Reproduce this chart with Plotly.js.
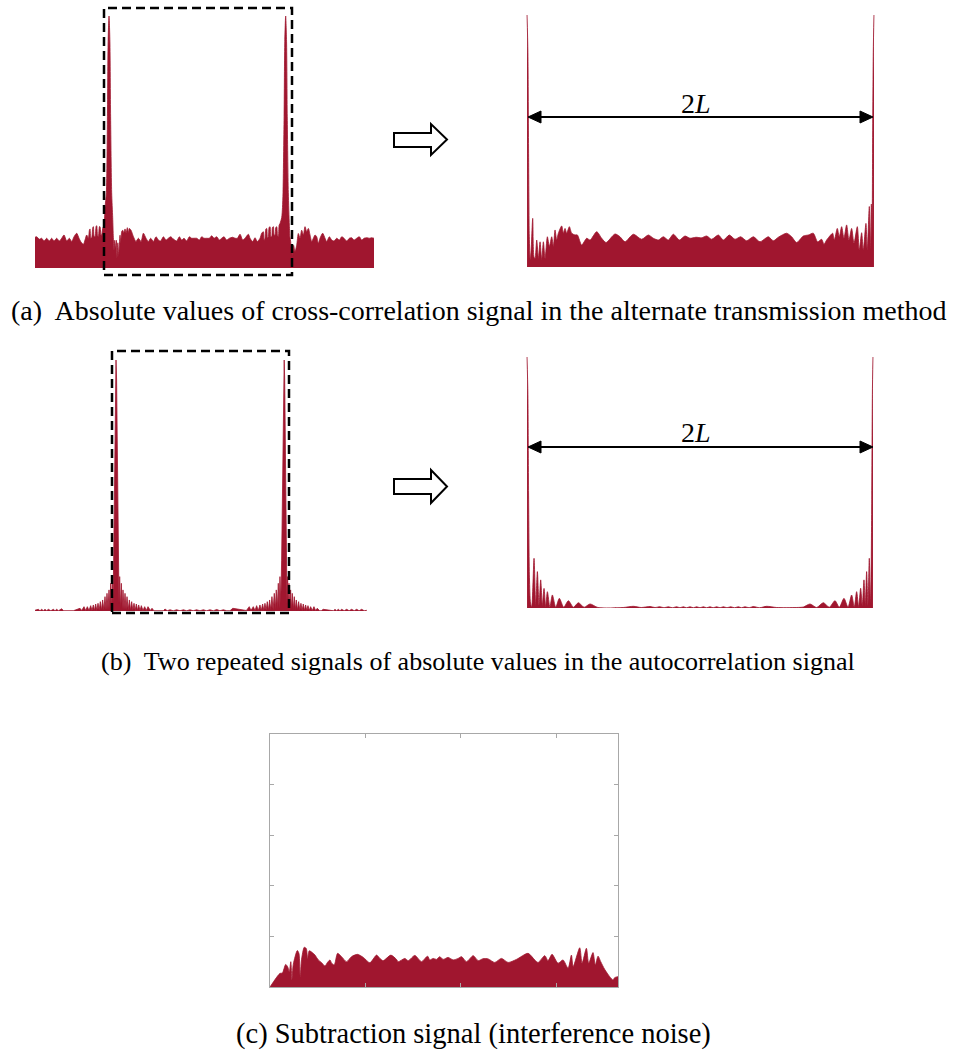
<!DOCTYPE html>
<html>
<head>
<meta charset="utf-8">
<script src="https://cdn.plot.ly/plotly-3.0.1.min.js"></script>
<style>
html,body{margin:0;padding:0;background:#fff;}
#chart{width:953px;height:1060px;}
</style>
</head>
<body>
<div id="chart"></div>
<script>
// ---------------- DATA ----------------
// (a) left: |cross-correlation|, lag in units where the two peaks are 1000 apart
const aLeftLag = [-419,-409.5,-394.4,-381.2,-368,-352.9,-337.8,-324.6,-311.4,-296.3,-281.2,-268,-254.7,-239.6,-224.6,-211.3,-198.1,-183,-169.8,-160.4,-145.3,-135.9,-126.4,-117,-111,-107.6,-103,-98.1,-92,-88.7,-84,-79.3,-73,-69.8,-65,-60.4,-54,-51,-45,-41.5,-35.9,-28.3,-22.6,-15,-9,-5,0,5,9,15,20.8,24.5,28.3,32,35.9,41.5,45,50,55,62.3,66,72,77.4,84,90.6,97,103.8,110,115.1,124.5,137.8,152.8,166.1,181.2,194.4,209.5,222.7,235.9,251,266.1,279.3,292.5,307.6,322.7,335.9,349.1,364.2,383.1,398.2,411.4,424.6,439.7,454.8,468,481.2,496.3,511.4,524.6,537.8,552.9,568,581.2,594.4,609.5,624.6,637.8,651,666.1,681.2,700.1,713.3,726.5,741.6,756.7,769.9,788.8,798.2,813.3,826.5,839.7,854.8,864.2,873.7,878,883.1,888,892.6,897,902,906,911.4,916,920.9,925,930.3,935,939.7,944,949.2,954,958.6,963,968,977.5,982,985,991,995,1000,1005,1009,1015,1020.8,1024.5,1028.3,1032,1036,1040,1045,1052.9,1062.3,1071.7,1081.2,1090.6,1100,1109.6,1119,1128.5,1137.9,1147.3,1156.8,1166.2,1175.6,1185,1194.5,1209.6,1222.8,1232.2,1247.3,1260.5,1273.7,1288.8,1303.9,1317.1,1330.3,1345.4,1360.5,1373.7,1387,1402,1417.2,1430.3,1443.6,1458.7,1473.7,1487,1500];
const aLeftAmp = [0.122,0.124,0.114,0.118,0.107,0.118,0.107,0.118,0.107,0.118,0.107,0.118,0.131,0.107,0.118,0.105,0.124,0.138,0.118,0.105,0.094,0.111,0.131,0.118,0.15,0.155,0.118,0.12,0.16,0.164,0.125,0.124,0.165,0.168,0.13,0.124,0.164,0.164,0.13,0.131,0.157,0.17,0.24,0.3,0.6,0.9,1.0,0.9,0.6,0.3,0.2,0.12,0.07,0.11,0.08,0.11,0.04,0.1,0.05,0.13,0.1,0.145,0.15,0.14,0.155,0.14,0.16,0.14,0.157,0.15,0.125,0.105,0.118,0.105,0.138,0.118,0.105,0.118,0.105,0.124,0.111,0.107,0.124,0.111,0.118,0.124,0.115,0.107,0.124,0.111,0.118,0.107,0.124,0.118,0.118,0.118,0.111,0.124,0.118,0.118,0.118,0.128,0.118,0.124,0.111,0.118,0.124,0.111,0.118,0.122,0.118,0.118,0.134,0.111,0.118,0.134,0.118,0.105,0.12,0.105,0.118,0.138,0.144,0.11,0.118,0.155,0.157,0.12,0.124,0.16,0.164,0.125,0.124,0.16,0.164,0.13,0.131,0.16,0.164,0.13,0.124,0.17,0.177,0.2,0.24,0.3,0.6,0.9,1.0,0.9,0.6,0.3,0.17,0.12,0.105,0.07,0.08,0.05,0.09,0.065,0.09,0.137,0.118,0.15,0.131,0.164,0.144,0.157,0.131,0.105,0.118,0.131,0.124,0.098,0.118,0.138,0.118,0.105,0.124,0.111,0.107,0.118,0.111,0.124,0.118,0.107,0.118,0.12,0.111,0.118,0.124,0.111,0.118,0.12,0.118,0.12,0.118];

// (a) right: zoom between the two peaks (2L = 1000 units)
const aRightLag = [0,2.5,4.5,6.5,9,11.5,16.3,20,23.1,27.9,32.7,37.5,42.3,47.1,51.9,58.6,64.4,71.1,75.9,80.7,85.5,90.3,99.9,104.7,109.5,114.3,122,128.7,138.3,145.1,157.5,172,181.6,200.8,215.2,227.7,253.6,268,282.4,306.4,330.4,349.7,364.1,378.5,392.9,407.3,421.7,439,455.3,469.7,487,503.4,517.8,532.2,551.4,565.8,583.1,599.4,615.7,633,652.3,671.5,695.5,709.9,724.3,748.3,762.7,777.1,796.3,810.7,825.1,837.6,849.2,855.9,863.6,875.1,880.9,885.7,894.3,900.1,906.8,913.5,921.2,927.9,935.6,942.4,952,957.7,964.5,969.3,976.9,980.8,986.6,990,992.5,994.5,996,998,1000];
const aRightAmp = [1.0,0.85,0.45,0.12,0.03,0.06,0.193,0.04,0.034,0.107,0.034,0.1,0.028,0.1,0.034,0.12,0.081,0.12,0.081,0.147,0.107,0.134,0.163,0.134,0.153,0.134,0.16,0.134,0.127,0.127,0.087,0.114,0.107,0.14,0.114,0.097,0.131,0.12,0.1,0.13,0.11,0.127,0.114,0.107,0.12,0.107,0.13,0.107,0.123,0.114,0.118,0.116,0.123,0.11,0.127,0.107,0.127,0.11,0.12,0.104,0.12,0.1,0.12,0.104,0.118,0.134,0.12,0.097,0.123,0.127,0.134,0.1,0.11,0.09,0.107,0.127,0.134,0.107,0.153,0.12,0.16,0.114,0.167,0.107,0.153,0.094,0.16,0.067,0.136,0.067,0.173,0.067,0.24,0.07,0.25,0.1,0.45,0.85,1.0];

// (b) left: two repeated autocorrelation magnitudes
const bLeftLag = [-478.5,-458.8,-449,-439.1,-429,-419.4,-409.5,-399.7,-385,-370.2,-360,-350.5,-340,-320.9,-310,-252,-212.7,-202.8,-189,-179,-169.3,-159.5,-149.6,-141.8,-133.9,-127,-120.1,-113.2,-106.3,-99.4,-92.5,-85.7,-78.8,-71.9,-65,-59.1,-53.2,-47.3,-41.3,-36.4,-31.5,-26.6,-21.7,-17.7,-13.8,-10,-6.5,-3.5,0,3.5,6.5,10,13.8,17.7,21.7,26.6,31.5,36.4,41.3,47.3,53.2,59.1,65,71.9,78.8,85.7,92.5,99.4,106.3,113.2,120.1,127,133.9,141.8,149.6,159.5,169.3,179,189,202.8,212.7,224,280,289.4,303,319,338,358.4,378,398,417,437,456,476,496,516,535,555,575,595,614,634,654,673,690,770,787.3,797.2,811,821,830.7,840.5,850.4,858.2,866.1,873,879.9,886.8,893.7,900.6,907.5,914.3,921.2,928.1,935,940.9,946.8,952.7,958.7,963.6,968.5,973.4,978.3,982.3,986.2,990,993.5,996.5,1000,1003.5,1006.5,1010,1013.8,1017.7,1021.7,1026.6,1031.5,1036.4,1041.3,1047.3,1053.2,1059.1,1065,1071.9,1078.8,1085.7,1092.5,1099.4,1106.3,1113.2,1120.1,1127,1133.9,1141.8,1149.6,1159.5,1169.3,1179,1189,1202.8,1212.7,1224,1285,1293.6,1303,1313.3,1323,1333,1348,1362.5,1377,1392,1407,1421.6,1436,1451.2,1466,1480.7,1490,1500.4];
const bLeftAmp = [0.003,0.0067,0.001,0.0067,0.001,0.0067,0.001,0.0067,0.001,0.0067,0.001,0.0067,0.001,0.009,0.001,0.001,0.0107,0.002,0.0173,0.002,0.0173,0.002,0.0213,0.002,0.024,0.002,0.0279,0.002,0.0306,0.003,0.0372,0.003,0.0439,0.004,0.0571,0.005,0.0704,0.006,0.084,0.008,0.1103,0.01,0.137,0.03,0.2,0.4,0.7,0.92,1.0,0.92,0.7,0.4,0.2,0.03,0.137,0.01,0.1103,0.008,0.084,0.006,0.0704,0.005,0.0571,0.004,0.0439,0.003,0.0372,0.003,0.0306,0.002,0.0279,0.002,0.024,0.002,0.0213,0.002,0.0173,0.002,0.0173,0.002,0.0107,0.001,0.001,0.008,0.001,0.005,0.001,0.005,0.001,0.005,0.001,0.005,0.001,0.005,0.001,0.005,0.001,0.005,0.001,0.006,0.001,0.005,0.001,0.001,0.0107,0.002,0.0173,0.002,0.0173,0.002,0.0213,0.002,0.024,0.002,0.0279,0.002,0.0306,0.003,0.0372,0.003,0.0439,0.004,0.0571,0.005,0.0704,0.006,0.084,0.008,0.1103,0.01,0.137,0.03,0.2,0.4,0.7,0.92,1.0,0.92,0.7,0.4,0.2,0.03,0.137,0.01,0.1103,0.008,0.084,0.006,0.0704,0.005,0.0571,0.004,0.0439,0.003,0.0372,0.003,0.0306,0.002,0.0279,0.002,0.024,0.002,0.0213,0.002,0.0173,0.002,0.0173,0.002,0.0107,0.001,0.001,0.0067,0.001,0.0067,0.001,0.0067,0.001,0.0067,0.001,0.0067,0.001,0.0067,0.001,0.0067,0.001,0.0067,0.001,0.003];

// (b) right: zoom between the two peaks
const bRightLag = [0,2.5,4.5,7,10,13.5,20.2,25,29.9,34.7,39.5,44.3,49.1,54,58.8,66,73.2,83,93.4,106,119.5,134,148.4,165,182.1,205,278,307.3,330,355.5,370,384,396,408.5,420,432.6,442,451.8,461,471.1,481,490.4,500,509.6,519,528.9,538,548.2,558,567.4,578,588.6,600,610.8,620,630,642,654.1,672,692.7,721.6,779.4,799,818,837.2,856.5,873.8,890.2,902.7,916.2,927.8,938.3,946,952.8,958.6,964.4,969.2,974,977.9,981.7,985.6,989.4,992.5,994.5,996.5,998.3,1000];
const bRightAmp = [1.0,0.85,0.45,0.12,0.02,0.003,0.198,0.01,0.145,0.01,0.112,0.01,0.078,0.005,0.065,0.004,0.052,0.003,0.0385,0.003,0.029,0.003,0.021,0.003,0.016,0.002,0.002,0.0067,0.002,0.006,0.002,0.005,0.001,0.005,0.001,0.005,0.001,0.005,0.001,0.005,0.001,0.005,0.001,0.005,0.001,0.005,0.001,0.005,0.001,0.005,0.001,0.005,0.001,0.005,0.001,0.005,0.001,0.006,0.001,0.0067,0.002,0.002,0.004,0.0159,0.002,0.0212,0.003,0.0292,0.003,0.0385,0.003,0.0518,0.004,0.0651,0.005,0.0784,0.01,0.112,0.01,0.145,0.01,0.198,0.02,0.12,0.45,0.85,1.0];

// (c) subtraction signal (interference noise)
const cLag = [0,10.5,12.9,16.4,18.5,20.2,21.8,23,24.4,28.6,30.3,31.7,33.1,35.9,38,39.4,41.1,44.6,47.1,50.6,54.1,57.6,60,62.8,64.6,67.3,70.8,74.9,80.2,85.4,91.7,97.7,104.6,111.6,115.1,118.6,126.6,132.5,134.3,141.3,144.8,151.7,158.7,165,167.4,170.9,174.4,177.8,181.3,186.6,191.8,197.1,200.6,205.8,212.8,218,223.2,228.5,235.4,242.4,249.4,258.1,270.3,277.3,280.8,287.8,291.2,295.4,301.7,306.9,312.2,315.7,317.5,324.4,326.9,331.4,333.8,338.3,340.7,343.6,346.4,350.5,355.8,359.3,361,364.5];
const cAmp = [0,0.054,0.055,0.089,0.08,0.06,0.1,0.03,0.09,0.144,0.133,0.04,0.11,0.157,0.152,0.11,0.143,0.135,0.126,0.107,0.096,0.083,0.096,0.107,0.094,0.087,0.133,0.12,0.1,0.12,0.129,0.117,0.096,0.126,0.113,0.104,0.126,0.109,0.1,0.113,0.104,0.125,0.1,0.122,0.107,0.113,0.109,0.12,0.109,0.117,0.107,0.113,0.12,0.1,0.124,0.104,0.112,0.111,0.097,0.113,0.097,0.109,0.133,0.107,0.097,0.124,0.104,0.129,0.094,0.107,0.074,0.126,0.08,0.155,0.094,0.153,0.094,0.136,0.087,0.122,0.1,0.07,0.041,0.028,0.037,0.041];
const cTickLag = [100,200,300];
const cTickAmp = [0.2,0.4,0.6,0.8];

const captions = [
  '(a)&nbsp; Absolute values of cross-correlation signal in the alternate transmission method',
  '(b)&nbsp; Two repeated signals of absolute values in the autocorrelation signal',
  '(c) Subtraction signal (interference noise)'
];
const spanLabel = '2<i>L</i>';

// ---------------- LAYOUT HELPERS ----------------
const W = 953, H = 1060;
const RED = '#A0162F';
const SERIF = 'Liberation Serif, Times New Roman, Times, serif';
const px = v => v / W;
const py = v => 1 - v / H;
const dom = (l, r, t, b) => ({x: [px(l), px(r)], y: [py(b), py(t)]});

const boxes = {
  a1: dom(35, 374, 16, 268),
  a2: dom(526, 875, 15, 267),
  b1: dom(35, 370, 360, 611),
  b2: dom(526, 874, 357, 608),
  c:  dom(270, 618, 734, 987)
};

function trace(x, y, ax, smooth) {
  return {x: x, y: y, xaxis: 'x' + ax, yaxis: 'y' + ax, type: 'scatter', mode: 'lines',
    fill: 'tozeroy', fillcolor: RED,
    line: {color: RED, width: 0.8, shape: smooth ? 'spline' : 'linear', smoothing: 0.7},
    hoverinfo: 'skip', showlegend: false};
}
const data = [
  trace(aLeftLag, aLeftAmp, '', true),
  trace(aRightLag, aRightAmp, '2', true),
  trace(bLeftLag, bLeftAmp, '3', false),
  trace(bRightLag, bRightAmp, '4', true),
  trace(cLag, cAmp, '5', true)
];

function hidden(domain, range, anchor) {
  return {domain: domain, range: range, visible: false, fixedrange: true, anchor: anchor};
}
const frameAxis = (domain, range, ticks, anchor) => ({
  domain: domain, range: range, anchor: anchor, showline: true, linecolor: '#a8a8a8', linewidth: 1,
  mirror: 'ticks', ticks: 'inside', ticklen: 4, tickcolor: '#a8a8a8', tickwidth: 1,
  tickvals: ticks, showticklabels: false, showgrid: false, zeroline: false, fixedrange: true
});

function hollowArrow(yTop, yBot, bTop, bBot) {
  const ym = (yTop + yBot) / 2;
  const p = [[394, bTop], [431, bTop], [431, yTop], [447, ym], [431, yBot], [431, bBot], [394, bBot]];
  return {type: 'path', xref: 'paper', yref: 'paper', layer: 'above',
    path: 'M' + p.map(q => px(q[0]) + ',' + py(q[1])).join(' L') + ' Z',
    line: {color: '#000', width: 2}, fillcolor: '#fff'};
}
function spanArrow(y) {
  const s = [];
  s.push({type: 'line', xref: 'paper', yref: 'paper', x0: px(538), x1: px(863), y0: py(y), y1: py(y),
    line: {color: '#000', width: 2}, layer: 'above'});
  const tri = (tip, back) => ({type: 'path', xref: 'paper', yref: 'paper', layer: 'above',
    path: 'M' + px(tip) + ',' + py(y) + ' L' + px(back) + ',' + py(y - 6) + ' L' + px(back) + ',' + py(y + 6) + ' Z',
    fillcolor: '#000', line: {color: '#000', width: 1}});
  s.push(tri(528, 541));
  s.push(tri(873, 860));
  return s;
}
function dashedRect(l, r, t, b) {
  return {type: 'rect', xref: 'paper', yref: 'paper', x0: px(l), x1: px(r), y0: py(b), y1: py(t),
    line: {color: '#000', width: 2.5, dash: '9px,5px'}, layer: 'above'};
}

const shapes = [
  dashedRect(104, 292, 8, 275),
  dashedRect(112, 289, 351, 613),
  hollowArrow(124, 155, 133, 147),
  hollowArrow(470, 503, 479, 494)
].concat(spanArrow(117), spanArrow(447));

const txt = (x, y, t, size) => ({xref: 'paper', yref: 'paper', x: px(x), y: py(y), text: t, showarrow: false,
  xanchor: 'center', yanchor: 'middle', font: {family: SERIF, size: size, color: '#000'}});

const annotations = [
  txt(696, 103, spanLabel, 28),
  txt(696, 433, spanLabel, 28),
  txt(478.5, 310, captions[0], 28),
  txt(478, 661, captions[1], 26),
  txt(473, 1034, captions[2], 28.5)
];

const layout = {
  width: W, height: H, margin: {l: 0, r: 0, t: 0, b: 0, pad: 0},
  paper_bgcolor: '#fff', plot_bgcolor: 'rgba(0,0,0,0)', showlegend: false,
  xaxis: hidden(boxes.a1.x, [-419, 1500], 'y'),
  yaxis: hidden(boxes.a1.y, [0, 1], 'x'),
  xaxis2: hidden(boxes.a2.x, [-3, 1003], 'y2'),
  yaxis2: hidden(boxes.a2.y, [0, 1], 'x2'),
  xaxis3: hidden(boxes.b1.x, [-478.5, 1500.4], 'y3'),
  yaxis3: hidden(boxes.b1.y, [0, 1], 'x3'),
  xaxis4: hidden(boxes.b2.x, [-3, 1003], 'y4'),
  yaxis4: hidden(boxes.b2.y, [0, 1], 'x4'),
  xaxis5: frameAxis(boxes.c.x, [0, 364.5], cTickLag, 'y5'),
  yaxis5: frameAxis(boxes.c.y, [0, 1], cTickAmp, 'x5'),
  shapes: shapes,
  annotations: annotations
};

Plotly.newPlot('chart', data, layout, {staticPlot: true, displayModeBar: false});
</script>
</body>
</html>
